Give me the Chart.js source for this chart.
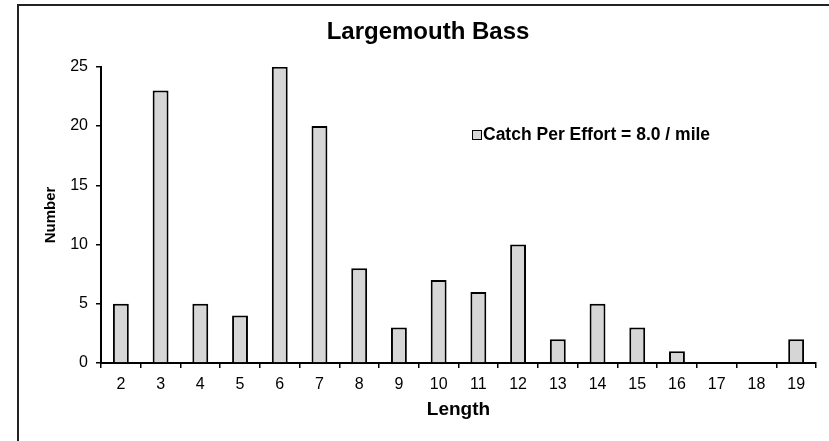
<!DOCTYPE html>
<html>
<head>
<meta charset="utf-8">
<script src="https://cdn.jsdelivr.net/npm/chart.js@4.4.1/dist/chart.umd.min.js"></script>
<style>
  html, body { margin: 0; padding: 0; background: #fff; }
  #wrap { width: 829px; height: 441px; }
</style>
</head>
<body>
<div id="wrap"><canvas id="myChart" width="829" height="441"></canvas></div>
<script>
const lengths = ["2", "3", "4", "5", "6", "7", "8", "9", "10", "11", "12", "13", "14", "15", "16", "17", "18", "19"];
const counts = [5, 23, 5, 4, 25, 20, 8, 3, 7, 6, 10, 2, 5, 3, 1, 0, 0, 2];
const yTicks = [0, 5, 10, 15, 20, 25];
const seriesName = "Catch Per Effort = 8.0 / mile";

const FONT = "'Liberation Sans', Arial, sans-serif";

// frame round the picture and the legend placed inside the plot
const framePlugin = {
  id: 'frame',
  beforeDraw(chart) {
    const ctx = chart.ctx;
    ctx.save();
    ctx.strokeStyle = '#222';
    ctx.lineWidth = 2;
    ctx.strokeRect(18, 5, 900, 500);
    ctx.restore();
  },
  afterDraw(chart) {
    const ctx = chart.ctx;
    const ds = chart.data.datasets[0];
    ctx.save();
    ctx.fillStyle = ds.backgroundColor;
    ctx.strokeStyle = '#000';
    ctx.lineWidth = 1;
    ctx.fillRect(472, 130, 9, 9);
    ctx.strokeRect(472.5, 130.5, 9, 9);
    ctx.fillStyle = '#000';
    ctx.font = 'bold 17.5px ' + FONT;
    ctx.textBaseline = 'middle';
    ctx.fillText(ds.label, 483, 135);
    ctx.restore();
  }
};

const data = {
  labels: lengths,
  datasets: [
    {
      label: seriesName,
      backgroundColor: "#d6d6d6",
      borderColor: "#000",
      borderWidth: 2,
      data: counts,
      categoryPercentage: 1,
      barPercentage: 0.4,
    },
  ],
};

const config = {
  type: "bar",
  data: data,
  plugins: [framePlugin],
  options: {
    responsive: false,
    animation: false,
    layout: { padding: { left: 40, right: 13, top: 10, bottom: 20 } },
    plugins: {
      legend: { display: false },
      tooltip: { enabled: false },
      title: {
        display: true,
        text: "Largemouth Bass",
        color: "#000",
        font: { family: FONT, size: 24, weight: "bold" },
        padding: { top: 8, bottom: 20 },
      },
    },
    scales: {
      x: {
        grid: { offset: true, drawOnChartArea: false, drawTicks: true, tickLength: 5, color: "#000", lineWidth: 1.5 },
        border: { color: "#000", width: 2 },
        ticks: { color: "#000", font: { family: FONT, size: 16 }, padding: 7, maxRotation: 0 },
        title: { display: true, text: "Length", color: "#000", font: { family: FONT, size: 19, weight: "bold" }, padding: { top: 2, bottom: 0 } },
        afterFit(scale) { scale.height = 58; },
      },
      y: {
        min: 0,
        max: 25,
        afterBuildTicks(scale) { scale.ticks = yTicks.map(v => ({ value: v })); },
        grid: { drawOnChartArea: false, drawTicks: true, tickLength: 5, color: "#000", lineWidth: 1.5 },
        border: { color: "#000", width: 2 },
        ticks: { color: "#000", font: { family: FONT, size: 16 }, padding: 8 },
        title: { display: true, text: "Number", color: "#000", font: { family: FONT, size: 15, weight: "bold" }, padding: { top: 2, bottom: 2 } },
        afterFit(scale) { scale.width = 61; },
      },
    },
  },
};

const myChart = new Chart(document.getElementById("myChart"), config);
</script>
</body>
</html>
